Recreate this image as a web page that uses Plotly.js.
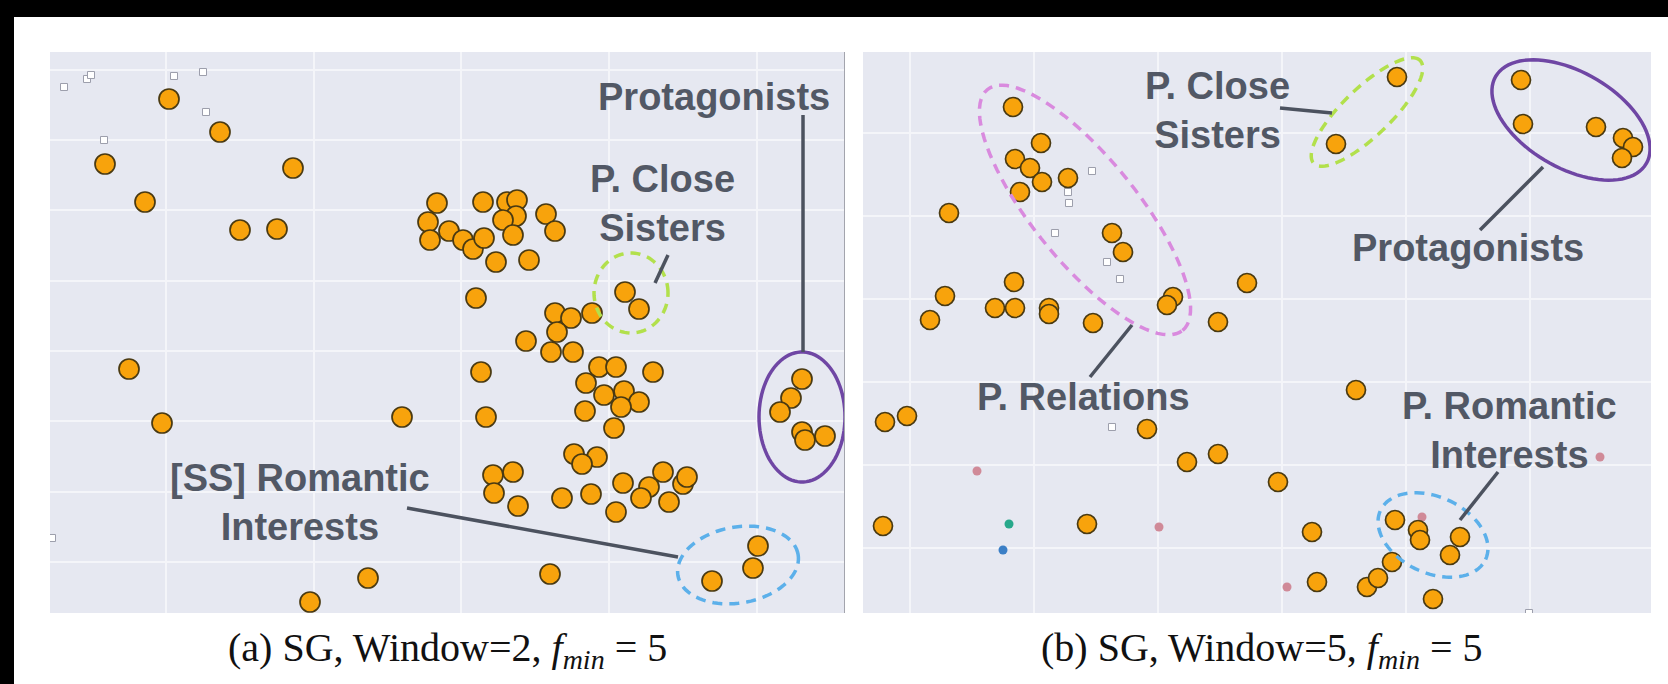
<!DOCTYPE html>
<html><head><meta charset="utf-8">
<script src="https://cdn.plot.ly/plotly-3.0.1.min.js"></script>
<style>
html,body{margin:0;padding:0;background:#000;width:1668px;height:684px;overflow:hidden}
#chart{position:absolute;left:14px;top:17px;width:1654px;height:667px;background:#fff}
</style>
</head><body><div id="chart"></div>
<script>
// ---- Panel (a): SG, Window=2 ----
const leftX = [11.9,17.0,5.5,24.3,9.5,19.0,22.7,38.7,37.8,38.0,39.9,41.3,42.3,43.4,43.3,45.7,46.7,46.6,45.3,46.3,44.6,47.9,49.6,50.5,42.6,57.5,58.9,50.5,52.1,54.2,50.7,47.6,50.1,52.3,54.9,56.6,60.3,53.6,55.4,57.4,58.9,57.1,53.5,56.4,43.1,43.6,35.2,7.9,11.2,52.4,54.7,53.2,44.3,46.3,44.4,46.8,51.2,54.1,57.3,61.3,59.9,63.3,63.7,59.1,61.9,56.6,50.0,31.8,26.0,75.2,74.1,73.0,75.2,75.5,77.5,66.2,70.3,70.8];
const leftY = [51.4,48.1,44.9,44.5,41.1,38.3,38.4,41.0,39.1,37.3,38.2,37.3,36.4,37.5,41.1,41.1,41.3,39.7,39.3,37.8,35.1,35.3,39.9,38.2,31.5,32.1,30.4,30.0,29.5,30.0,28.1,27.2,26.1,26.1,24.6,24.6,24.1,23.0,21.8,22.2,21.1,20.6,20.2,18.5,24.1,19.6,19.6,24.4,19.0,15.9,15.6,14.9,13.8,14.1,12.0,10.7,11.5,11.9,13.0,14.1,12.6,12.9,13.6,11.5,11.1,10.1,3.9,3.5,1.1,23.4,21.5,20.1,18.1,17.3,17.7,3.2,4.5,6.7];
const leftMinorX = [1.4,3.7,4.1,12.4,15.3,15.6,5.4,0.2];
const leftMinorY = [52.6,53.4,53.8,53.7,54.1,50.1,47.3,7.5];

// ---- Panel (b): SG, Window=5 ----
const rightX = [15.0,17.8,15.2,16.7,17.9,15.7,20.5,8.6,24.9,26.0,15.1,8.2,6.7,13.2,15.2,18.6,18.6,23.0,31.0,30.4,35.5,38.4,53.4,47.3,65.8,66.0,73.3,76.0,77.0,75.9,2.2,4.4,28.4,32.4,35.5,2.0,22.4,49.3,41.5,44.9,45.4,50.4,51.5,52.9,53.2,55.5,55.7,59.7,58.7,57.0];
const rightY = [50.6,47.0,45.4,44.5,43.1,42.1,43.5,40.0,38.0,36.1,33.1,31.7,29.3,30.5,30.5,30.5,29.9,29.0,31.6,30.8,29.1,33.0,53.6,46.9,53.3,48.9,48.6,47.5,46.6,45.5,19.1,19.7,18.4,15.1,15.9,8.7,8.9,22.3,13.1,8.1,3.1,2.6,3.5,5.1,9.3,8.3,7.3,7.6,5.8,1.4];
const rightMinorX = [22.9,20.5,20.6,19.2,24.4,25.7,24.9,66.6];
const rightMinorY = [44.2,42.1,41.0,38.0,35.1,33.4,18.6,0.0];
const pinkX = [11.4,29.6,42.4,55.9,73.7];
const pinkY = [14.2,8.6,2.6,9.6,15.6];
const tealX = [14.6], tealY = [8.9];
const blueX = [14.0], blueY = [6.3];

const captions = ["(a) SG, Window=2, <i>f<sub>min</sub></i> = 5", "(b) SG, Window=5, <i>f<sub>min</sub></i> = 5"];

const ORANGE = '#f8a30c', EDGE = '#4a3a12';
function orange(x, y, xa, ya, s){ return {type:'scatter', mode:'markers', x, y, xaxis:xa, yaxis:ya, hoverinfo:'skip',
  marker:{size:s, color:ORANGE, line:{color:EDGE, width:1.7}}}; }
function minor(x, y, xa, ya){ return {type:'scatter', mode:'markers', x, y, xaxis:xa, yaxis:ya, hoverinfo:'skip',
  marker:{size:7, symbol:'square', color:'#ffffff', line:{color:'#9c9eac', width:1}}}; }
function dots(x, y, xa, ya, c){ return {type:'scatter', mode:'markers', x, y, xaxis:xa, yaxis:ya, hoverinfo:'skip',
  marker:{size:9, color:c, line:{width:0}}}; }

const data = [
  minor(leftMinorX, leftMinorY, 'x', 'y'),
  orange(leftX, leftY, 'x', 'y', 20),
  minor(rightMinorX, rightMinorY, 'x2', 'y2'),
  dots(pinkX, pinkY, 'x2', 'y2', '#d08a98'),
  dots(tealX, tealY, 'x2', 'y2', '#27a88b'),
  dots(blueX, blueY, 'x2', 'y2', '#3b7fc6'),
  orange(rightX, rightY, 'x2', 'y2', 19)
];

function ellipsePath(cx, cy, a, b, deg){
  const t = deg*Math.PI/180, n = 90; let p = '';
  for(let i=0;i<=n;i++){ const u = 2*Math.PI*i/n;
    const x = cx + a*Math.cos(u)*Math.cos(t) - b*Math.sin(u)*Math.sin(t);
    const y = cy + a*Math.cos(u)*Math.sin(t) + b*Math.sin(u)*Math.cos(t);
    p += (i?'L':'M') + x.toFixed(3) + ',' + y.toFixed(3); }
  return p + 'Z';
}
const DASH = '10px,7px';
function ell(xr, yr, cx, cy, a, b, deg, color, dash){
  return {type:'path', xref:xr, yref:yr, path:ellipsePath(cx,cy,a,b,deg), line:{color, width:3.5, dash:dash||'solid'}};
}
const LINEC = '#4c525f';
function seg(xr, yr, x0, y0, x1, y1){
  return {type:'line', xref:xr, yref:yr, x0, y0, x1, y1, line:{color:LINEC, width:3.5}};
}

const shapes = [
  // panel a
  ell('x','y', 75.2, 19.6, 4.3, 6.5, 0, '#6f46a4'),
  ell('x','y', 58.1, 32.0, 3.7, 4.0, 0, '#b2e04c', DASH),
  ell('x','y', 68.8, 4.8, 6.1, 3.8, 10, '#5cb0ea', DASH),
  seg('x','y', 75.3, 49.8, 75.3, 26.1),
  seg('x','y', 61.8, 35.8, 60.5, 33.0),
  seg('x','y', 35.7, 10.5, 62.8, 5.6),
  {type:'line', xref:'x', yref:'y', x0:79.5, x1:79.5, y0:0, y1:56.1, line:{color:'#a3a4ad', width:2}},
  // panel b
  ell('x2','y2', 22.2, 40.3, 15.5, 5.2, -51, '#d98ade', DASH),
  ell('x2','y2', 50.4, 50.1, 7.4, 2.4, 44, '#b2e04c', DASH),
  ell('x2','y2', 70.8, 49.3, 8.7, 4.8, -30, '#6f46a4'),
  ell('x2','y2', 57.0, 7.8, 5.8, 3.8, -25, '#5cb0ea', DASH),
  seg('x2','y2', 41.7, 50.5, 46.9, 50.0),
  seg('x2','y2', 61.7, 38.3, 68.0, 44.6),
  seg('x2','y2', 22.7, 23.6, 26.9, 28.8),
  seg('x2','y2', 63.5, 14.1, 59.7, 9.3)
];

const LBL = {family:'Liberation Sans, Arial, sans-serif', size:38, color:'#525865'};
function lab(xr, yr, x, y, text){
  return {xref:xr, yref:yr, x, y, text:'<b>'+text+'</b>', showarrow:false, font:LBL, xanchor:'center', yanchor:'middle', align:'center'};
}
const CAP = {family:'Liberation Serif, Times New Roman, serif', size:40, color:'#111111'};
const annotations = [
  lab('x','y', 66.4, 51.6, 'Protagonists'),
  lab('x','y', 61.2, 40.9, 'P. Close<br>Sisters'),
  lab('x','y', 25.0, 11.0, '[SS] Romantic<br>Interests'),
  lab('x2','y2', 35.5, 50.2, 'P. Close<br>Sisters'),
  lab('x2','y2', 60.5, 36.5, 'Protagonists'),
  lab('x2','y2', 22.1, 21.6, 'P. Relations'),
  lab('x2','y2', 64.7, 18.2, 'P. Romantic<br>Interests'),
  {xref:'paper', yref:'paper', x:0.2618, y:0.051, text:captions[0], showarrow:false, font:CAP, xanchor:'center', yanchor:'middle'},
  {xref:'paper', yref:'paper', x:0.7545, y:0.051, text:captions[1], showarrow:false, font:CAP, xanchor:'center', yanchor:'middle'}
];

function ax(domain, range, tick0, dtick, anchor){
  return {domain, range, tick0, dtick, tickmode:'linear', showticklabels:false, ticks:'', zeroline:false,
    showline:false, showgrid:true, gridcolor:'#f4f5f9', gridwidth:2, anchor, fixedrange:true};
}
const YD = [0.10645, 0.94753];
const layout = {
  width:1654, height:667, margin:{l:0,r:0,t:0,b:0},
  paper_bgcolor:'#ffffff', plot_bgcolor:'#e6e8f1', showlegend:false,
  xaxis: ax([0.02177, 0.50242], [0, 79.5], 11.6, 14.77, 'y'),
  yaxis: ax(YD, [0, 56.1], 5.1, 7.03, 'x'),
  xaxis2: ax([0.51330, 0.98972], [0, 78.8], 4.7, 12.4, 'y2'),
  yaxis2: ax(YD, [0, 56.1], 6.5, 8.3, 'x2'),
  shapes, annotations
};
Plotly.newPlot('chart', data, layout, {displayModeBar:false, staticPlot:true});
</script></body></html>
